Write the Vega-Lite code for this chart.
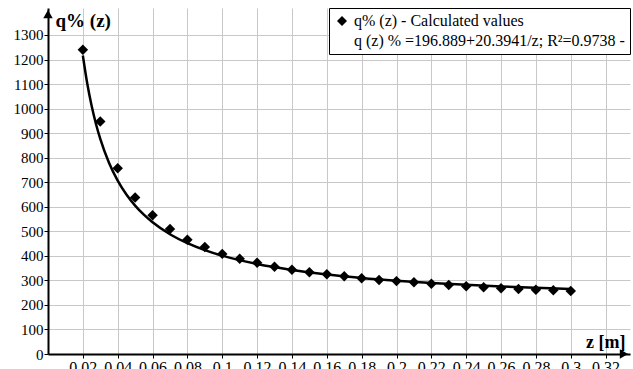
{
  "$schema": "https://vega.github.io/schema/vega-lite/v6.json",
  "width": 582,
  "height": 346,
  "autosize": {"type": "none"},
  "padding": {"left": 48, "top": 8, "right": 3, "bottom": 15},
  "background": "white",
  "config": {
    "view": {"stroke": null},
    "font": "Liberation Serif",
    "axis": {
      "labelOverlap": false,
      "labelFlush": false,
      "labelFont": "Liberation Serif",
      "labelColor": "black",
      "gridColor": "#c8c8c8",
      "gridWidth": 1,
      "domainColor": "black",
      "domainWidth": 2,
      "tickColor": "black",
      "tickSize": 4,
      "tickWidth": 1,
      "titleFont": "Liberation Serif",
      "titleFontWeight": "bold",
      "titleColor": "black",
      "zindex": 0
    },
    "legend": {
      "labelFont": "Liberation Serif",
      "labelFontSize": 16,
      "labelColor": "black",
      "labelLimit": 0
    }
  },
  "datasets": {
    "points": [
      {"z": 0.02, "q": 1240, "series": "q% (z) - Calculated values"},
      {"z": 0.03, "q": 947, "series": "q% (z) - Calculated values"},
      {"z": 0.04, "q": 757, "series": "q% (z) - Calculated values"},
      {"z": 0.05, "q": 638, "series": "q% (z) - Calculated values"},
      {"z": 0.06, "q": 565, "series": "q% (z) - Calculated values"},
      {"z": 0.07, "q": 509, "series": "q% (z) - Calculated values"},
      {"z": 0.08, "q": 466, "series": "q% (z) - Calculated values"},
      {"z": 0.09, "q": 436, "series": "q% (z) - Calculated values"},
      {"z": 0.1, "q": 408, "series": "q% (z) - Calculated values"},
      {"z": 0.11, "q": 388, "series": "q% (z) - Calculated values"},
      {"z": 0.12, "q": 372, "series": "q% (z) - Calculated values"},
      {"z": 0.13, "q": 356, "series": "q% (z) - Calculated values"},
      {"z": 0.14, "q": 343, "series": "q% (z) - Calculated values"},
      {"z": 0.15, "q": 333, "series": "q% (z) - Calculated values"},
      {"z": 0.16, "q": 325, "series": "q% (z) - Calculated values"},
      {"z": 0.17, "q": 317, "series": "q% (z) - Calculated values"},
      {"z": 0.18, "q": 309, "series": "q% (z) - Calculated values"},
      {"z": 0.19, "q": 302, "series": "q% (z) - Calculated values"},
      {"z": 0.2, "q": 297, "series": "q% (z) - Calculated values"},
      {"z": 0.21, "q": 292, "series": "q% (z) - Calculated values"},
      {"z": 0.22, "q": 286, "series": "q% (z) - Calculated values"},
      {"z": 0.23, "q": 281, "series": "q% (z) - Calculated values"},
      {"z": 0.24, "q": 276, "series": "q% (z) - Calculated values"},
      {"z": 0.25, "q": 272, "series": "q% (z) - Calculated values"},
      {"z": 0.26, "q": 268, "series": "q% (z) - Calculated values"},
      {"z": 0.27, "q": 265, "series": "q% (z) - Calculated values"},
      {"z": 0.28, "q": 262, "series": "q% (z) - Calculated values"},
      {"z": 0.29, "q": 260, "series": "q% (z) - Calculated values"},
      {"z": 0.3, "q": 257, "series": "q% (z) - Calculated values"}
    ],
    "fit": [
      {"z": 0.02, "q": 1216.6},
      {"z": 0.0225, "q": 1103.3},
      {"z": 0.025, "q": 1012.7},
      {"z": 0.0275, "q": 938.5},
      {"z": 0.03, "q": 876.7},
      {"z": 0.035, "q": 779.6},
      {"z": 0.04, "q": 706.7},
      {"z": 0.045, "q": 650.1},
      {"z": 0.05, "q": 604.8},
      {"z": 0.055, "q": 567.7},
      {"z": 0.06, "q": 536.8},
      {"z": 0.07, "q": 488.2},
      {"z": 0.08, "q": 451.8},
      {"z": 0.09, "q": 423.5},
      {"z": 0.1, "q": 400.8},
      {"z": 0.12, "q": 366.8},
      {"z": 0.14, "q": 342.6},
      {"z": 0.16, "q": 324.4},
      {"z": 0.18, "q": 310.2},
      {"z": 0.2, "q": 298.9},
      {"z": 0.22, "q": 289.6},
      {"z": 0.24, "q": 281.9},
      {"z": 0.26, "q": 275.3},
      {"z": 0.28, "q": 269.7},
      {"z": 0.3, "q": 264.9}
    ],
    "arrows": [
      {"z": 0, "q": 1385, "dir": "up"},
      {"z": 0.3305, "q": 0, "dir": "right"}
    ]
  },
  "encoding": {
    "x": {
      "field": "z", "type": "quantitative",
      "scale": {"domain": [0, 0.334], "nice": false, "zero": false},
      "axis": {
        "values": [0.02, 0.04, 0.06, 0.08, 0.1, 0.12, 0.14, 0.16, 0.18, 0.2, 0.22, 0.24, 0.26, 0.28, 0.3, 0.32],
        "format": ".2~f",
        "grid": true,
        "labelFontSize": 16,
        "labelPadding": 1,
        "title": "z [m]", "titleFontSize": 18,
        "titleAlign": "right", "titleBaseline": "middle",
        "titleX": 577, "titleY": -12
      }
    },
    "y": {
      "field": "q", "type": "quantitative",
      "scale": {"domain": [0, 1410], "nice": false},
      "axis": {
        "values": [0, 100, 200, 300, 400, 500, 600, 700, 800, 900, 1000, 1100, 1200, 1300],
        "format": "d",
        "grid": true,
        "labelFontSize": 15,
        "labelPadding": 1,
        "title": "q% (z)", "titleFontSize": 19,
        "titleAngle": 0, "titleAlign": "left", "titleBaseline": "middle",
        "titleX": 7, "titleY": 12
      }
    }
  },
  "layer": [
    {
      "data": {"name": "fit"},
      "mark": {"type": "line", "color": "black", "strokeWidth": 2.5, "interpolate": "monotone"}
    },
    {
      "data": {"name": "points"},
      "mark": {"type": "point", "filled": true, "color": "black", "size": 110, "opacity": 1},
      "encoding": {
        "shape": {
          "field": "series", "type": "nominal",
          "scale": {
            "domain": ["q% (z) - Calculated values", "q (z) % =196.889+20.3941/z; R²=0.9738 -"],
            "range": ["diamond", "stroke"]
          },
          "legend": {
            "title": null,
            "orient": "top-right",
            "offset": 0,
            "strokeColor": "black",
            "fillColor": "white",
            "padding": 5,
            "labelFont": "Liberation Serif",
            "labelFontSize": 16,
            "labelColor": "black",
            "labelLimit": 0,
            "symbolSize": 100,
            "symbolFillColor": "black",
            "symbolStrokeColor": "black",
            "symbolStrokeWidth": 2.5,
            "rowPadding": 2,
            "cornerRadius": 0
          }
        }
      }
    },
    {
      "data": {"name": "arrows"},
      "transform": [{"filter": "datum.dir === 'up'"}],
      "mark": {"type": "point", "shape": "triangle-up", "filled": true, "color": "black", "size": 90, "opacity": 1, "clip": false}
    },
    {
      "data": {"name": "arrows"},
      "transform": [{"filter": "datum.dir === 'right'"}],
      "mark": {"type": "point", "shape": "triangle-right", "filled": true, "color": "black", "size": 90, "opacity": 1, "clip": false}
    }
  ]
}
